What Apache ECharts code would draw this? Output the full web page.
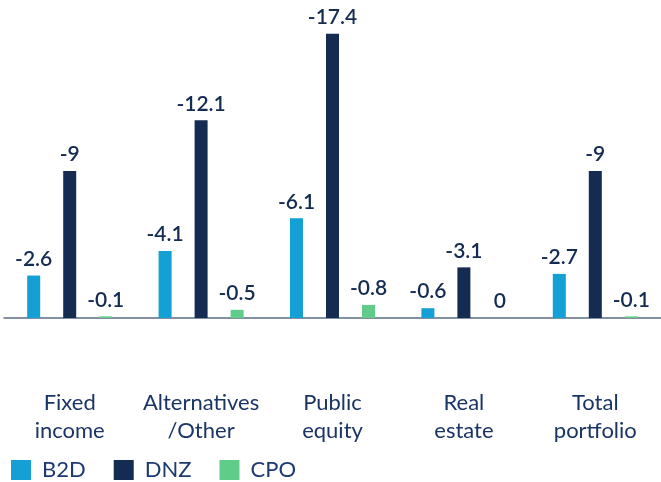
<!DOCTYPE html>
<html>
<head>
<meta charset="utf-8">
<script src="https://cdn.jsdelivr.net/npm/echarts@6/dist/echarts.min.js"></script>
<style>
  html, body { margin: 0; padding: 0; background: #fff; }
  #chart { width: 661px; height: 482px; }
</style>
</head>
<body>
<div id="chart"></div>
<script>
const categories = ['Fixed\nincome', 'Alternatives\n/Other', 'Public\nequity', 'Real\nestate', 'Total\nportfolio'];
const b2d = [-2.6, -4.1, -6.1, -0.6, -2.7];
const dnz = [-9, -12.1, -17.4, -3.1, -9];
const cpo = [-0.1, -0.5, -0.8, 0, -0.1];

const navy = '#142b52';
const textNavy = '#1a3565';
const font = 'Lato';

const makeSeries = (name, data, color) => ({
  name,
  type: 'bar',
  data,
  barWidth: 13,
  barGap: '177%',
  itemStyle: { color },
  label: {
    show: true,
    position: 'top',
    distance: 6,
    color: navy,
    fontFamily: font,
    fontSize: 21,
    fontWeight: 600,
  },
});

const option = {
  animation: false,
  textStyle: { fontFamily: font },
  legend: {
    left: 6,
    top: 454,
    itemWidth: 20,
    itemHeight: 20,
    itemGap: 28,
    icon: 'rect',
    textStyle: { color: '#1c3a70', fontSize: 22, fontFamily: font, padding: [0, 0, 0, 6] },
    data: ['B2D', 'DNZ', 'CPO'],
  },
  grid: {
    left: 4,
    right: -3,
    top: 24,
    bottom: 164,
  },
  xAxis: {
    type: 'category',
    data: categories,
    axisLine: { lineStyle: { color: '#5b6b84', width: 1.5 } },
    axisTick: { show: false },
    axisLabel: {
      interval: 0,
      margin: 71,
      color: textNavy,
      fontFamily: font,
      fontSize: 22,
      lineHeight: 28,
    },
  },
  yAxis: {
    type: 'value',
    inverse: true,
    min: -18,
    max: 0,
    show: false,
    splitLine: { show: false },
  },
  series: [
    makeSeries('B2D', b2d, '#14a0d4'),
    makeSeries('DNZ', dnz, navy),
    makeSeries('CPO', cpo, '#5fcd89'),
  ],
};

echarts.init(document.getElementById('chart'), null, { renderer: 'canvas' }).setOption(option);
</script>
</body>
</html>
